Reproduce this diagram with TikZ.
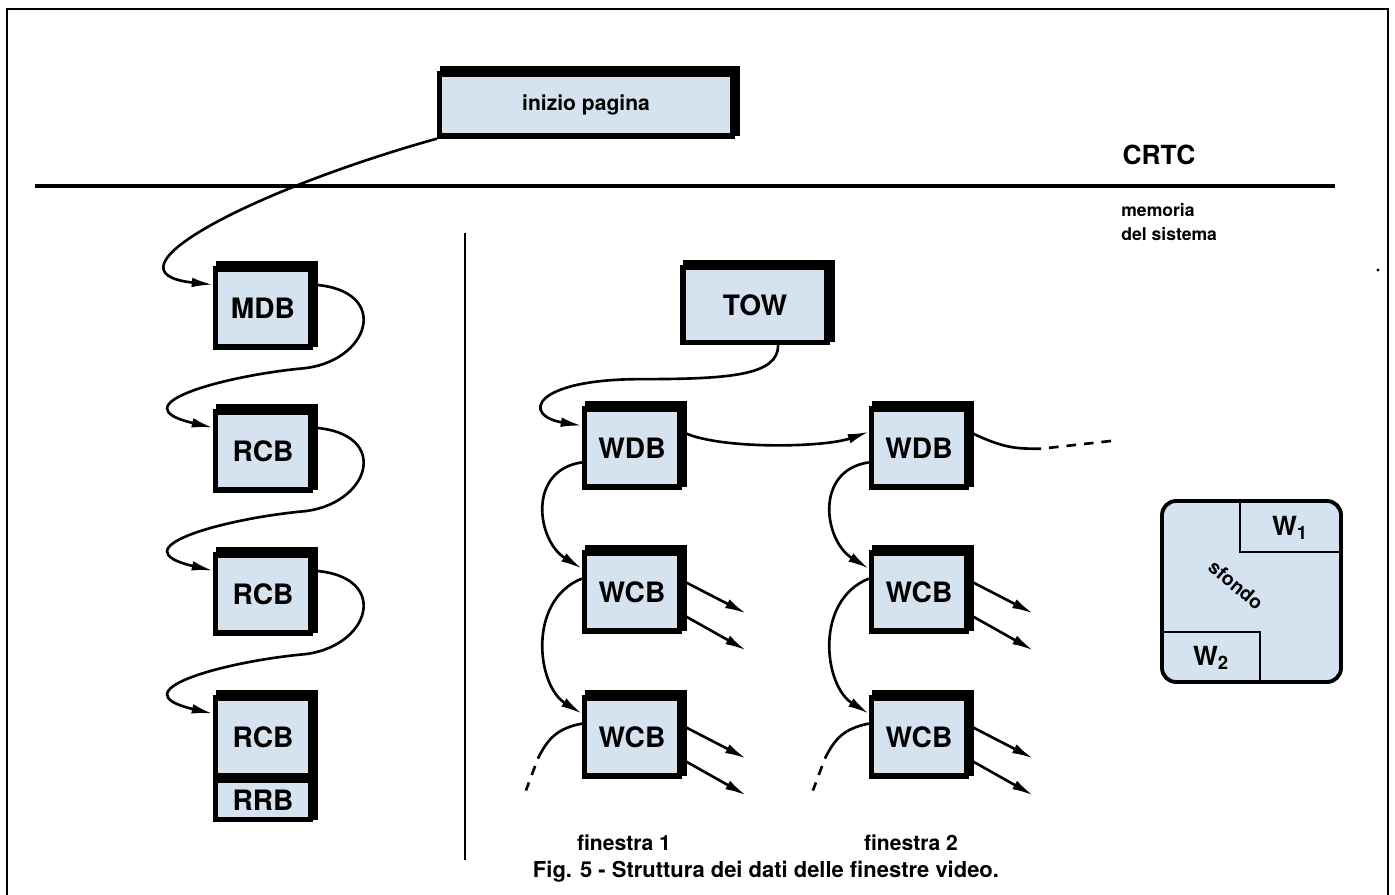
\documentclass[tikz,border=0pt]{standalone}
\usepackage{fontspec}
\setmainfont{TeX Gyre Heros}
\usetikzlibrary{arrows.meta, shadows}
\definecolor{BoxBlue}{RGB}{213,227,240}

\begin{document}
\begin{tikzpicture}[x=0.02cm, y=-0.02cm,
    blk/.style={draw=black, fill=BoxBlue, line width=3pt,
      general shadow={fill=black, shadow xshift=0pt, shadow yshift=4.5pt},
      general shadow={fill=black, shadow xshift=4.5pt, shadow yshift=0pt},
      general shadow={fill=black, shadow xshift=4.5pt, shadow yshift=4.5pt},
      minimum width=1.9cm, minimum height=1.56cm, inner sep=0pt,
      font=\fontsize{16}{19}\selectfont\bfseries},
    link/.style={line width=1.5pt, -{Latex[length=12pt,width=5.5pt]}},
    wire/.style={line width=1.5pt},
    gap/.style={line width=1.5pt, dash pattern=on 5.5pt off 4.5pt, dash phase=5.5pt},
    lbl/.style={font=\fontsize{12}{14}\selectfont\bfseries}]
  \useasboundingbox (0,0) rectangle (1395,895);
  % frame, CRTC / memory border
  \draw[line width=1.2pt] (7,895) -- (7,9) -- (1388,9) -- (1388,895);
  \draw[line width=2.3pt] (35,186) -- (1335,186);
  \draw[line width=1.4pt] (465,233) -- (465,860);
  \fill (1378,270) circle (1.6);

  \node[blk, minimum width=5.86cm, minimum height=1.24cm, font=\fontsize{12}{14}\selectfont\bfseries] (inizio) at (586,105) {inizio pagina};
  \node[font=\fontsize{15}{18}\selectfont\bfseries] (crtc) at (1159,155) {CRTC};
  \node[anchor=north west, align=left, inner sep=0pt, font=\fontsize{10}{13.5}\selectfont\bfseries] (mem) at (1121,203) {memoria\\del sistema};

  % page descriptors
  \node[blk] (mdb) at (263,308) {MDB};
  \node[blk] (rcba) at (263,451) {RCB};
  \node[blk] (rcbb) at (263,594) {RCB};
  \node[blk] (rcbc) at (263,737) {RCB};
  \node[blk, minimum height=0.78cm] (rrb) at (263,800) {RRB};

  \draw[link] (inizio.south west) .. controls +(-189,53) and +(-116,-12) .. (mdb.155);
  \foreach \a/\b in {mdb/rcba, rcba/rcbb, rcbb/rcbc}
    \draw[link] (\a.25) .. controls +(80,5) and +(70,-5) .. ++(-13,84)
      .. controls +(-80,8) and +(-95,-22) .. (\b.155);

  % windows
  \node[blk, minimum width=2.88cm, minimum height=1.5cm] (tow) at (755,305) {TOW};
  \foreach \c/\x in {1/632, 2/919} {
    \node[blk] (wdb\c) at (\x,448) {WDB};
    \node[blk] (wcbt\c) at (\x,592) {WCB};
    \node[blk] (wcbb\c) at (\x,737) {WCB};
    \node[lbl] (fin\c) at (\x-8,843) {finestra \c};
    \draw[link] (wdb\c.196) .. controls +(-55,8) and +(-45,-28) .. (wcbt\c.155);
    \draw[link] (wcbt\c.165) .. controls +(-55,22) and +(-45,-28) .. (wcbb\c.155);
    \draw[wire] (wcbb\c.165) .. controls +(-25,5) and +(10,-20) .. ++(-44,35) coordinate (cut\c);
    \draw[gap] (cut\c) -- ++(-12,32) coordinate (open\c);
    \foreach \n in {wcbt\c, wcbb\c} {
      \draw[link] (\n.13) -- ++(64,33) coordinate (\n o);
      \draw[link] (\n.-24) -- ++(64,36) coordinate (\n u);
    }
  }
  \draw[link] (tow.-60) .. controls +(0,30) and +(90,0) .. ++(-137,34)
    .. controls +(-110,0) and +(-60,-10) .. (wdb1.156);
  \draw[link] (wdb1.18) .. controls +(35,18) and +(-45,16) .. (wdb2.162);
  \draw[wire] (wdb2.18) .. controls +(35,17) and +(-25,0) .. ++(72,17) coordinate (cut3);
  \draw[gap] (cut3) -- ++(72,-8) coordinate (open3);

  % screen layout
  \node[draw, line width=2.2pt, fill=BoxBlue, rounded corners=8pt, minimum width=3.58cm, minimum height=3.62cm] (sfondo) at (1251.5,591.5) {};
  \draw[line width=1.5pt] (1240,501) -- (1240,552) -- (1341,552);
  \draw[line width=1.5pt] (1162,632) -- (1260,632) -- (1260,682);
  \node[font=\fontsize{15}{18}\selectfont\bfseries] (wa) at (1290,528) {W\textsubscript{1}};
  \node[font=\fontsize{15}{18}\selectfont\bfseries] (wb) at (1211,658) {W\textsubscript{2}};
  \node[font=\fontsize{11}{13}\selectfont\bfseries, rotate=-40, inner sep=0pt] (bg) at (1236,585) {sfondo};

  \node[font=\fontsize{12.5}{15}\selectfont\bfseries] (cap) at (766,872) {Fig. 5 - Struttura dei dati delle finestre video.};
\end{tikzpicture}
\end{document}
